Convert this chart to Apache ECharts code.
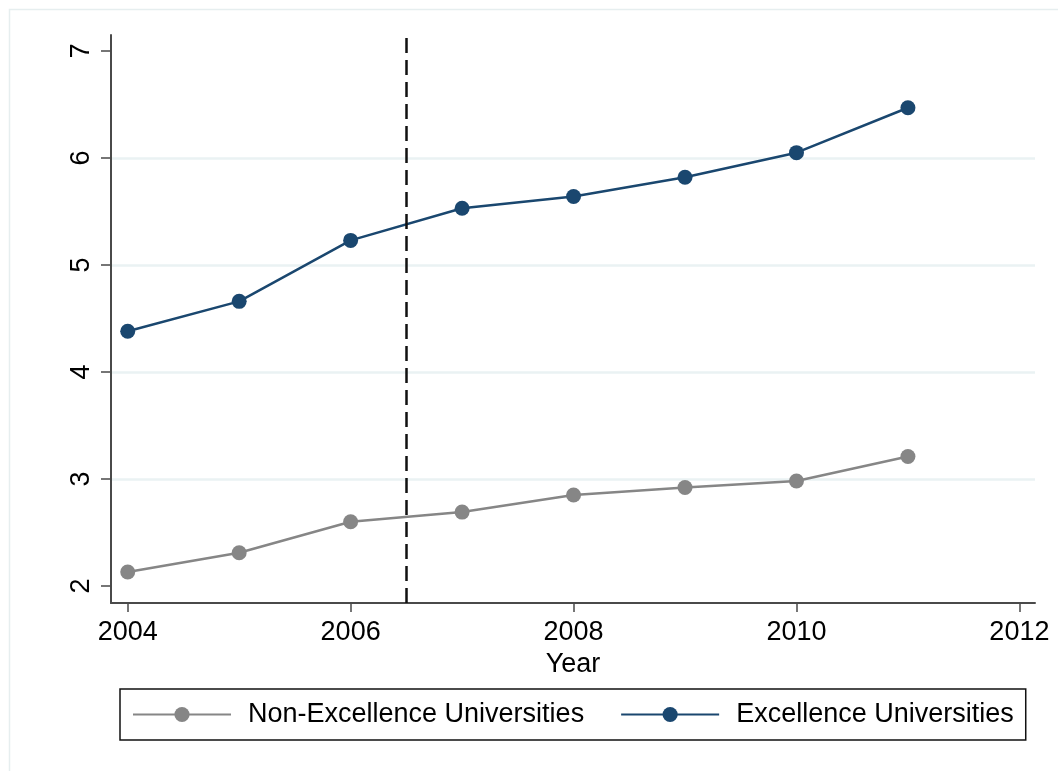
<!DOCTYPE html>
<html>
<head>
<meta charset="utf-8">
<script src="https://cdn.jsdelivr.net/npm/echarts@6/dist/echarts.min.js"></script>
<style>
  html, body { margin: 0; padding: 0; background: #ffffff; }
  #chart { width: 1058px; height: 771px; }
</style>
</head>
<body>
<div id="chart"></div>
<script>
// Mean values by year for the two university groups
const years = [2004, 2005, 2006, 2007, 2008, 2009, 2010, 2011];
const nonExcellence = [2.13, 2.31, 2.60, 2.69, 2.85, 2.92, 2.98, 3.21];
const excellence = [4.38, 4.66, 5.23, 5.53, 5.64, 5.82, 6.05, 6.47];
const xTicks = [2004, 2006, 2008, 2010, 2012];
const yTicks = [2, 3, 4, 5, 6, 7];
const cutoffYear = 2006.5;

const pairs = (xs, ys) => xs.map((x, i) => [x, ys[i]]);

const FONT = '"Liberation Sans", Arial, sans-serif';
const NAVY = '#1a476f';
const GRAY = '#868686';
const AXIS = '#4a4a4a';
const FS = 27;

const chart = echarts.init(document.getElementById('chart'), null, { renderer: 'canvas' });

chart.setOption({
  backgroundColor: '#ffffff',
  animation: false,
  textStyle: { fontFamily: FONT },
  graphic: [{
    type: 'rect',
    left: 7, top: 7,
    shape: { width: 1100, height: 800 },
    style: { fill: 'none', stroke: '#e6eeef', lineWidth: 1.5 },
    silent: true
  }],
  grid: { left: 111, right: 23, top: 35, bottom: 168, containLabel: false },
  xAxis: {
    type: 'value',
    min: 2003.85,
    max: 2012.14,
    name: 'Year',
    nameLocation: 'middle',
    nameGap: 43,
    nameTextStyle: { color: '#000', fontSize: FS, fontFamily: FONT },
    axisLine: { show: true, onZero: false, lineStyle: { color: AXIS, width: 2 } },
    axisTick: { show: true, length: 9, customValues: xTicks, lineStyle: { color: AXIS, width: 1.5 } },
    axisLabel: {
      customValues: xTicks, color: '#000', fontSize: FS, margin: 16, fontFamily: FONT,
      formatter: v => String(Math.round(v))
    },
    splitLine: { show: false }
  },
  yAxis: {
    type: 'value',
    min: 1.84,
    max: 7.15,
    axisLine: { show: true, onZero: false, lineStyle: { color: AXIS, width: 2 } },
    axisTick: { show: true, length: 10, customValues: yTicks, lineStyle: { color: AXIS, width: 1.5 } },
    axisLabel: { customValues: yTicks, rotate: 90, color: '#000', fontSize: FS, margin: 16, fontFamily: FONT },
    splitLine: { show: true, showMinLine: false, showMaxLine: false, lineStyle: { color: '#eaf2f3', width: 2.5 } }
  },
  legend: {
    left: 120,
    top: 689,
    orient: 'horizontal',
    itemGap: 36,
    itemWidth: 98,
    itemHeight: 19,
    padding: [12, 12, 12, 12],
    borderColor: '#111',
    borderWidth: 1.5,
    textStyle: { color: '#000', fontSize: FS, fontFamily: FONT, padding: [0, 0, 0, 12] },
    data: ['Non-Excellence Universities', 'Excellence Universities']
  },
  series: [
    {
      name: 'Non-Excellence Universities',
      type: 'line',
      data: pairs(years, nonExcellence),
      symbol: 'circle',
      symbolSize: 15,
      lineStyle: { color: GRAY, width: 2.5 },
      itemStyle: { color: GRAY },
      z: 3,
      markLine: {
        silent: true,
        symbol: ['none', 'none'],
        label: { show: false },
        lineStyle: { color: '#111', width: 2.5, type: [15, 7] },
        data: [{ xAxis: cutoffYear }]
      }
    },
    {
      name: 'Excellence Universities',
      type: 'line',
      data: pairs(years, excellence),
      symbol: 'circle',
      symbolSize: 15,
      lineStyle: { color: NAVY, width: 2.5 },
      itemStyle: { color: NAVY },
      z: 4
    }
  ]
});
</script>
</body>
</html>
